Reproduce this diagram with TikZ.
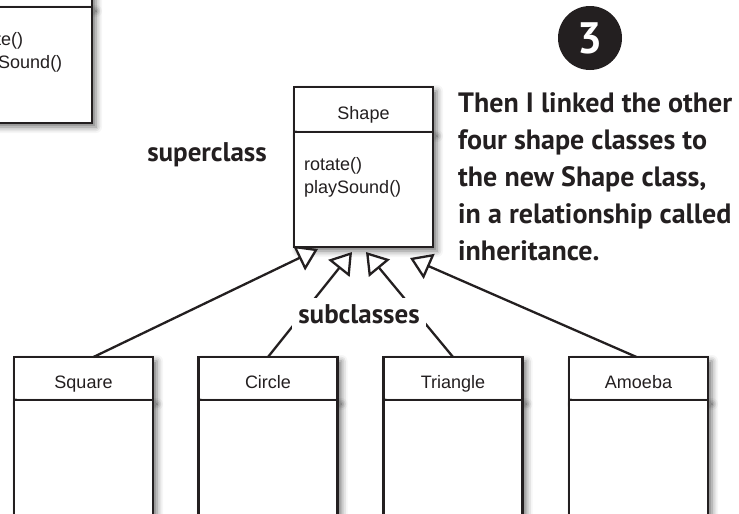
\documentclass[tikz,border=0pt]{standalone}
\usepackage{fontspec}
\setmainfont{Liberation Sans}
\newfontfamily\handfont{PT Sans}
\usepackage{tikz}
\usetikzlibrary{positioning,arrows.meta,shadows.blur}
\definecolor{ink}{HTML}{231F20}

\tikzset{
	classname/.style={draw=ink, line width=2.3pt, fill=white, outer sep=0pt, inner sep=0pt,
		minimum width=139pt, minimum height=44pt, text height=19pt, text depth=0pt,
		text=ink, font=\fontsize{18}{23}\selectfont,
		blur shadow={shadow xshift=4pt, shadow yshift=-4pt, shadow blur radius=6pt, shadow opacity=55}},
	classbody/.style={classname, minimum height=116pt},
	methods/.style={anchor=north west, inner sep=0pt, align=left, text=ink,
		font=\fontsize{18}{23}\selectfont},
	inherit/.style={draw=ink, line width=2.3pt, -{Triangle[fill=white, length=21pt, width=27pt]}},
	hand/.style={text=ink, font=\handfont\bfseries\fontsize{27}{30}\selectfont},
}

\begin{document}
\begin{tikzpicture}[x=1pt,y=-1pt]
	\useasboundingbox (0,0) rectangle (739,514);
	\clip (0,0) rectangle (739,514);

	%old class, cut off at the top left
	\node[classname] (oldname) at (22.5,-15) {};
	\node[classbody, below=0pt of oldname] (oldbody) {};
	\node[methods] at ([shift={(12pt,-25pt)}]oldbody.north west) {rotate()\\playSound()};

	%superclass
	\node[classname, minimum height=45pt] (shape) at (363.5,109.5) {Shape};
	\node[classbody, minimum height=115pt, below=0pt of shape] (shapebody) {};
	\node[methods] at ([shift={(10pt,-25pt)}]shapebody.north west) {rotate()\\playSound()};

	%subclasses
	\node[classname, minimum height=43pt] (square) at (83.5,378.5) {Square};
	\node[classbody, minimum height=130pt, below=0pt of square] (squarebody) {};
	\node[classname, minimum height=43pt] (circ) at (268,378.5) {Circle};
	\node[classbody, minimum height=130pt, below=0pt of circ] (circbody) {};
	\node[classname, minimum height=43pt] (tri) at (453,378.5) {Triangle};
	\node[classbody, minimum height=130pt, below=0pt of tri] (tribody) {};
	\node[classname, minimum height=43pt] (amoeba) at (638.5,378.5) {Amoeba};
	\node[classbody, minimum height=130pt, below=0pt of amoeba] (amoebabody) {};

	%arrow tips under the superclass
	\coordinate (tipsq) at ([shift={(24pt,-2pt)}]shapebody.south west);
	\coordinate (tipci) at ([shift={(58pt,-5pt)}]shapebody.south west);
	\coordinate (tiptr) at ([shift={(72pt,-5pt)}]shapebody.south west);
	\coordinate (tipam) at ([shift={(116pt,-11pt)}]shapebody.south west);

	%inheritance
	\draw[inherit] ([xshift=10pt]square.north) -- (tipsq);
	\draw[inherit] (circ.north) -- (tipci);
	\draw[inherit] (tri.north) -- (tiptr);
	\draw[inherit] ([xshift=-2pt]amoeba.north) -- (tipam);

	%labels
	\node[hand] (superlabel) at (207,155) {superclass};
	\node[hand, fill=white, inner sep=6pt] (sublabel) at (359,314) {subclasses};

	%note
	\node[circle, fill=ink, minimum size=64pt, inner sep=0pt, text=white,
		font=\handfont\bfseries\fontsize{44}{44}\selectfont] (step3) at (590,38) {3};
	\node[hand, font=\handfont\bfseries\fontsize{28}{37}\selectfont, align=left, anchor=west,
		inner sep=0pt] (note) at (458,177)
		{Then I linked the other\\four shape classes to\\the new Shape class,\\in a relationship called\\inheritance.};
\end{tikzpicture}
\end{document}
